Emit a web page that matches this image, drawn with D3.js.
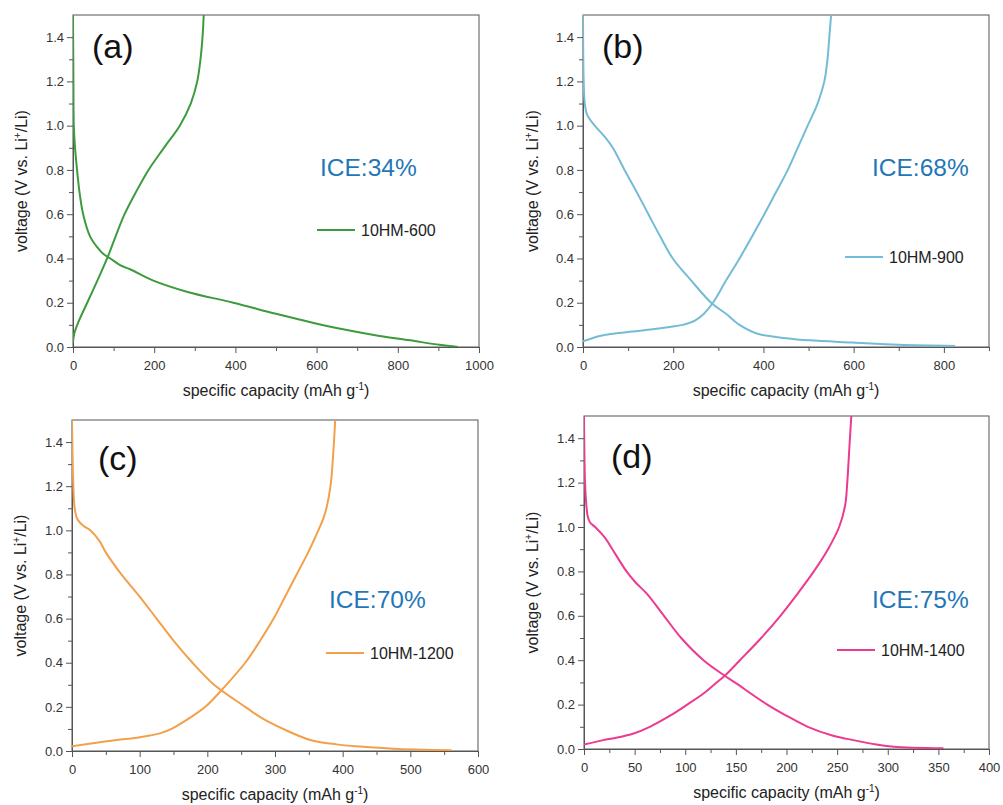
<!DOCTYPE html>
<html>
<head>
<meta charset="utf-8">
<script src="https://cdn.jsdelivr.net/npm/d3@7"></script>
<style>
  body { margin: 0; background: #fff; }
  text { font-family: Arial, "Liberation Sans", sans-serif; }
</style>
</head>
<body>
<div id="chart"></div>
<script>
// [capacity (mAh/g), voltage (V)]
const dischargeA = [[0,1.5],[1,1.2],[2,1.0],[5,0.9],[10,0.8],[16,0.7],[25,0.6],[42,0.5],[60,0.45],[75,0.42],[92,0.4],[116,0.37],[142,0.35],[198,0.3],[280,0.25],[395,0.2],[500,0.15],[590,0.11],[665,0.08],[755,0.05],[830,0.03],[903,0.01],[948,0]]
const chargeA = [[0,0.02],[3,0.06],[15,0.12],[35,0.2],[60,0.3],[84,0.4],[105,0.5],[127,0.6],[155,0.7],[186,0.8],[224,0.9],[263,1.0],[290,1.1],[306,1.2],[314,1.3],[319,1.4],[322,1.5]]

const dischargeB = [[0,1.5],[1.5,1.2],[4,1.1],[9,1.05],[26,1.0],[48,0.95],[66,0.9],[92,0.8],[119,0.7],[145,0.6],[171,0.5],[199,0.4],[240,0.3],[284,0.2],[317,0.15],[347,0.1],[387,0.06],[450,0.04],[502,0.03],[598,0.02],[700,0.01],[825,0.005]]
const chargeB = [[0,0.026],[37,0.05],[66,0.06],[110,0.07],[155,0.08],[192,0.09],[221,0.1],[249,0.12],[268,0.15],[288,0.2],[317,0.3],[347,0.4],[375,0.5],[402,0.6],[428,0.7],[454,0.8],[476,0.9],[498,1.0],[520,1.1],[535,1.2],[542,1.3],[546,1.4],[550,1.5]]

const dischargeC = [[0,1.5],[2,1.2],[4,1.1],[8,1.05],[17,1.02],[27,1.0],[41,0.95],[50,0.9],[73,0.8],[100,0.7],[125,0.6],[150,0.5],[178,0.4],[210,0.3],[256,0.2],[280,0.15],[312,0.1],[352,0.05],[391,0.03],[426,0.02],[475,0.01],[561,0.003]]
const chargeC = [[0,0.022],[41,0.04],[66,0.05],[96,0.06],[115,0.07],[130,0.08],[147,0.1],[174,0.15],[197,0.2],[228,0.3],[256,0.4],[278,0.5],[298,0.6],[315,0.7],[332,0.8],[349,0.9],[364,1.0],[371,1.05],[376,1.1],[382,1.2],[385,1.3],[389,1.5]]

const dischargeD = [[0,1.5],[1,1.2],[2.3,1.1],[3.6,1.05],[6,1.02],[11,1.0],[21,0.95],[28,0.9],[42,0.8],[51,0.75],[62,0.7],[79,0.6],[96,0.5],[118,0.4],[139,0.33],[149,0.3],[181,0.2],[200,0.15],[221,0.1],[246,0.06],[266,0.04],[289,0.02],[306,0.01],[355,0.003]]
const chargeD = [[0,0.02],[19,0.04],[31,0.05],[49,0.07],[65,0.1],[85,0.15],[102,0.2],[118,0.25],[131,0.3],[139,0.33],[154,0.4],[175,0.5],[194,0.6],[211,0.7],[227,0.8],[241,0.9],[252,1.0],[258,1.1],[260,1.2],[262,1.35],[264,1.5]]

const panelLabels = ["(a)", "(b)", "(c)", "(d)"]
const seriesNames = ["10HM-600", "10HM-900", "10HM-1200", "10HM-1400"]
const iceLabels = ["ICE:34%", "ICE:68%", "ICE:70%", "ICE:75%"]
const xMax = [1000, 900, 600, 400]
const xMajor = [200, 200, 100, 50]
const yTicks = [0, 0.2, 0.4, 0.6, 0.8, 1.0, 1.2, 1.4]

const width = 1003
const height = 805

const panels = [
    {box: {left: 73, right: 479, top: 15, bottom: 347}, discharge: dischargeA, charge: chargeA, color: "#3d9b3d",
     ice: [247, 161], legend: [244, 215], labelPos: [92, 58], xLabelY: 396, yLabelX: 27},
    {box: {left: 583, right: 989, top: 15, bottom: 347}, discharge: dischargeB, charge: chargeB, color: "#74bcd6",
     ice: [289, 161], legend: [262, 242], labelPos: [602, 58], xLabelY: 396, yLabelX: 538},
    {box: {left: 72, right: 478, top: 420, bottom: 751}, discharge: dischargeC, charge: chargeC, color: "#f3a04a",
     ice: [257, 188], legend: [254, 233], labelPos: [98, 470], xLabelY: 800, yLabelX: 26},
    {box: {left: 584, right: 989, top: 416, bottom: 749}, discharge: dischargeD, charge: chargeD, color: "#ec3b8f",
     ice: [288, 192], legend: [253, 234], labelPos: [611, 468], xLabelY: 798, yLabelX: 538}
]

const svg = d3.select("#chart")
    .append("svg")
    .attr("width", width)
    .attr("height", height)

const axisColor = "#555"
const tickText = "#333"

const drawPanel = (p, i) => {
    const b = p.box
    const w = b.right - b.left
    const h = b.bottom - b.top

    const xScale = d3.scaleLinear().domain([0, xMax[i]]).range([0, w])
    const yScale = d3.scaleLinear().domain([0, 1.5]).range([h, 0])

    const g = svg.append("g")
        .attr("transform", `translate(${b.left}, ${b.top})`)

    g.append("clipPath")
        .attr("id", `clip${i}`)
        .append("rect")
        .attr("width", w)
        .attr("height", h)

    // frame
    g.append("rect")
        .attr("width", w)
        .attr("height", h)
        .attr("fill", "none")
        .attr("stroke", axisColor)
        .attr("stroke-width", 1)

    const xTicks = d3.range(0, xMax[i] + 0.001, xMajor[i])
    const xMinor = d3.range(xMajor[i] / 2, xMax[i] + 0.001, xMajor[i])
    const yMinor = d3.range(0.1, 1.5, 0.2)

    const xAxis = g.append("g")
        .attr("class", "x-axis")
        .attr("transform", `translate(0, ${h})`)
        .call(d3.axisBottom(xScale).tickValues(xTicks).tickSize(6).tickSizeOuter(0).tickFormat(d3.format("d")))
    xAxis.append("g")
        .call(d3.axisBottom(xScale).tickValues(xMinor).tickSize(4).tickSizeOuter(0).tickFormat(""))
        .select(".domain").remove()

    const yAxis = g.append("g")
        .attr("class", "y-axis")
        .call(d3.axisLeft(yScale).tickValues(yTicks).tickSize(6).tickSizeOuter(0).tickFormat(d3.format(".1f")))
    yAxis.append("g")
        .call(d3.axisLeft(yScale).tickValues(yMinor).tickSize(4).tickSizeOuter(0).tickFormat(""))
        .select(".domain").remove()

    g.selectAll(".domain, .tick line").attr("stroke", axisColor)
    g.selectAll(".tick text")
        .attr("fill", tickText)
        .style("font-size", "13px")
        .style("font-family", "Arial, 'Liberation Sans', sans-serif")
    xAxis.selectAll(".tick text").attr("dy", "1.05em")

    const line = d3.line()
        .x(d => xScale(d[0]))
        .y(d => yScale(d[1]))
        .curve(d3.curveCatmullRom.alpha(0.5))

    const curves = g.append("g").attr("clip-path", `url(#clip${i})`)
    ;[p.discharge, p.charge].forEach(series => {
        curves.append("path")
            .datum(series)
            .attr("fill", "none")
            .attr("stroke", p.color)
            .attr("stroke-width", 2)
            .attr("d", line)
    })

    // ICE text
    g.append("text")
        .attr("x", p.ice[0])
        .attr("y", p.ice[1])
        .attr("fill", "#1f77b8")
        .style("font-size", "24.5px")
        .text(iceLabels[i])

    // legend
    g.append("line")
        .attr("x1", p.legend[0])
        .attr("x2", p.legend[0] + 38)
        .attr("y1", p.legend[1])
        .attr("y2", p.legend[1])
        .attr("stroke", p.color)
        .attr("stroke-width", 2)
    g.append("text")
        .attr("x", p.legend[0] + 44)
        .attr("y", p.legend[1] + 6)
        .attr("fill", "#222")
        .style("font-size", "16px")
        .text(seriesNames[i])

    // panel letter
    svg.append("text")
        .attr("x", p.labelPos[0])
        .attr("y", p.labelPos[1])
        .attr("fill", "#111")
        .style("font-size", "34px")
        .text(panelLabels[i])

    // x label
    const xl = svg.append("text")
        .attr("x", b.left + w / 2)
        .attr("y", p.xLabelY)
        .attr("text-anchor", "middle")
        .attr("fill", "#222")
        .style("font-size", "16px")
    xl.append("tspan").text("specific capacity (mAh g")
    xl.append("tspan").attr("dy", -6).style("font-size", "10px").text("-1")
    xl.append("tspan").attr("dy", 6).text(")")

    // y label
    const yl = svg.append("text")
        .attr("transform", `translate(${p.yLabelX}, ${b.top + h / 2}) rotate(-90)`)
        .attr("text-anchor", "middle")
        .attr("fill", "#222")
        .style("font-size", "16px")
    yl.append("tspan").text("voltage (V vs. Li")
    yl.append("tspan").attr("dy", -6).style("font-size", "10px").text("+")
    yl.append("tspan").attr("dy", 6).text("/Li)")
}

panels.forEach(drawPanel)
</script>
</body>
</html>
